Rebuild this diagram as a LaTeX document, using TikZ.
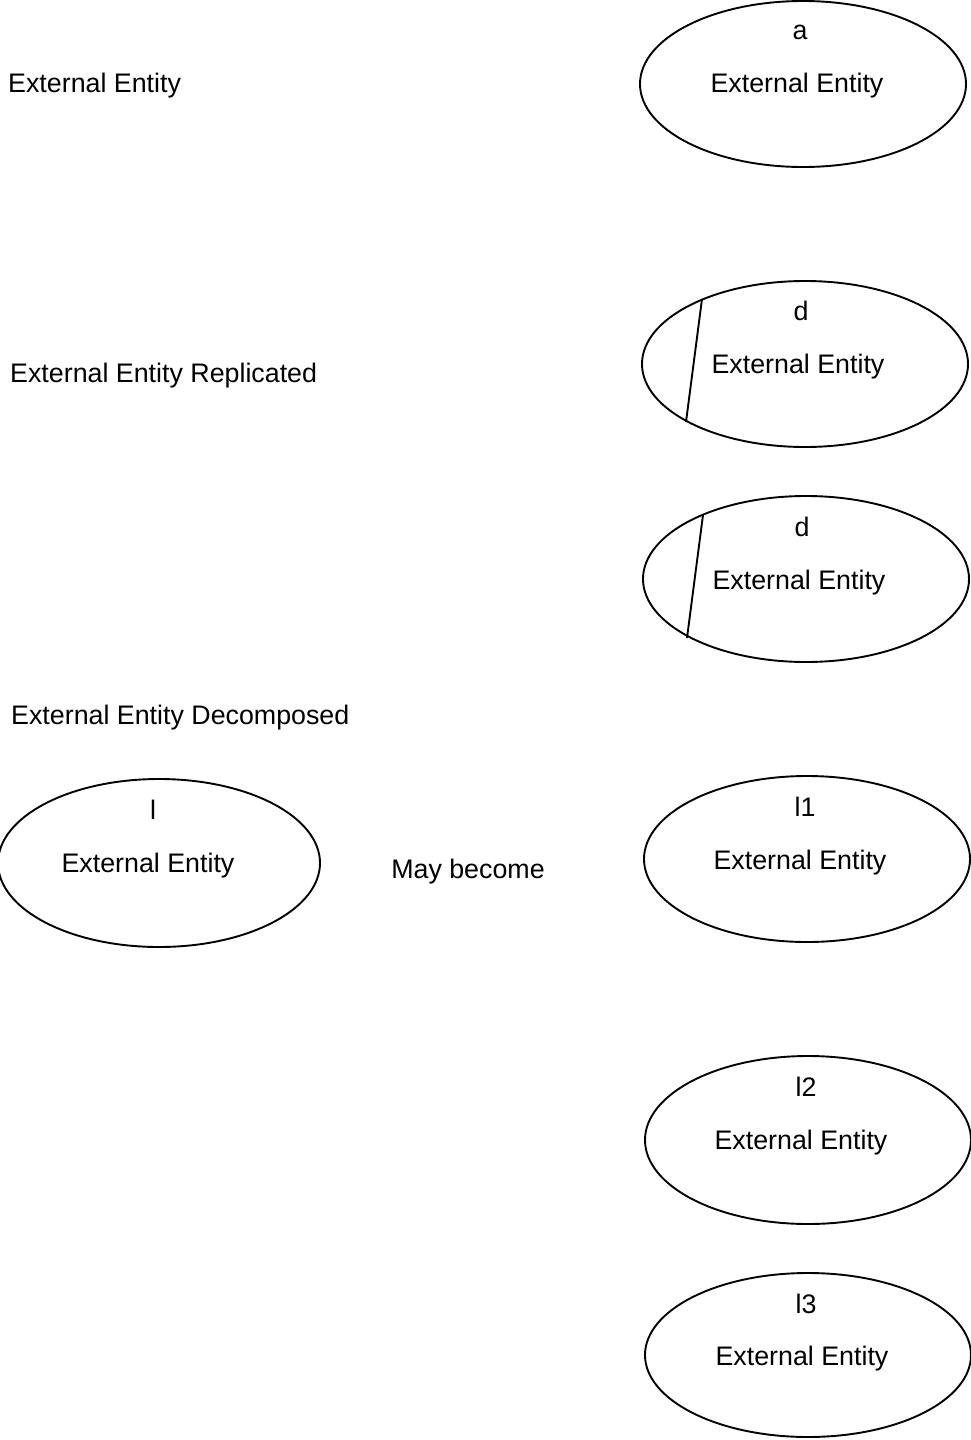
\documentclass[tikz,border=0pt]{standalone}
\usepackage{fontspec}
\setmainfont{Liberation Sans}
\usetikzlibrary{shapes.geometric}
\begin{document}
\begin{tikzpicture}[x=1pt,y=-1pt,
  every node/.style={font=\fontsize{26.8}{31}\selectfont, inner sep=0pt},
  entity/.style={draw, ellipse, line width=1.9pt, minimum width=326pt, minimum height=166pt},
  lbl/.style={anchor=west},
  divider/.style={line width=1.9pt}]
\useasboundingbox (0,0) rectangle (971,1440);

% left-hand captions
\node[lbl] (c1) at (8,86) {External Entity};
\node[lbl] (c2) at (10,376) {External Entity Replicated};
\node[lbl] (c3) at (11,718) {External Entity Decomposed};
\node (may) at (468,872) {May become};

% plain external entity
\node[entity] (ea) at (803,84) {};
\node (ea-id) at (800,32) {a};
\node (ea-t) at (797,86) {External Entity};

% replicated external entity (two copies)
\node[entity] (ed1) at (805,364) {};
\node (ed1-id) at (801,311) {d};
\node (ed1-t) at (798,367) {External Entity};
\draw[divider] (702,299) -- (686,422);

\node[entity] (ed2) at (806,579) {};
\node (ed2-id) at (802,527) {d};
\node (ed2-t) at (799,583) {External Entity};
\draw[divider] (703,515) -- (687,638);

% decomposed external entity
\node[entity, minimum width=322pt, minimum height=168pt] (el) at (159,863) {};
\node (el-id) at (153,810) {l};
\node (el-t) at (148,866) {External Entity};

\node[entity] (el1) at (807,859) {};
\node (el1-id) at (805,807) {l1};
\node (el1-t) at (800,863) {External Entity};

\node[entity, minimum height=168pt] (el2) at (808,1140) {};
\node (el2-id) at (806,1087) {l2};
\node (el2-t) at (801,1143) {External Entity};

\node[entity, minimum height=164pt] (el3) at (808,1355) {};
\node (el3-id) at (806,1304) {l3};
\node (el3-t) at (802,1359) {External Entity};
\end{tikzpicture}
\end{document}
